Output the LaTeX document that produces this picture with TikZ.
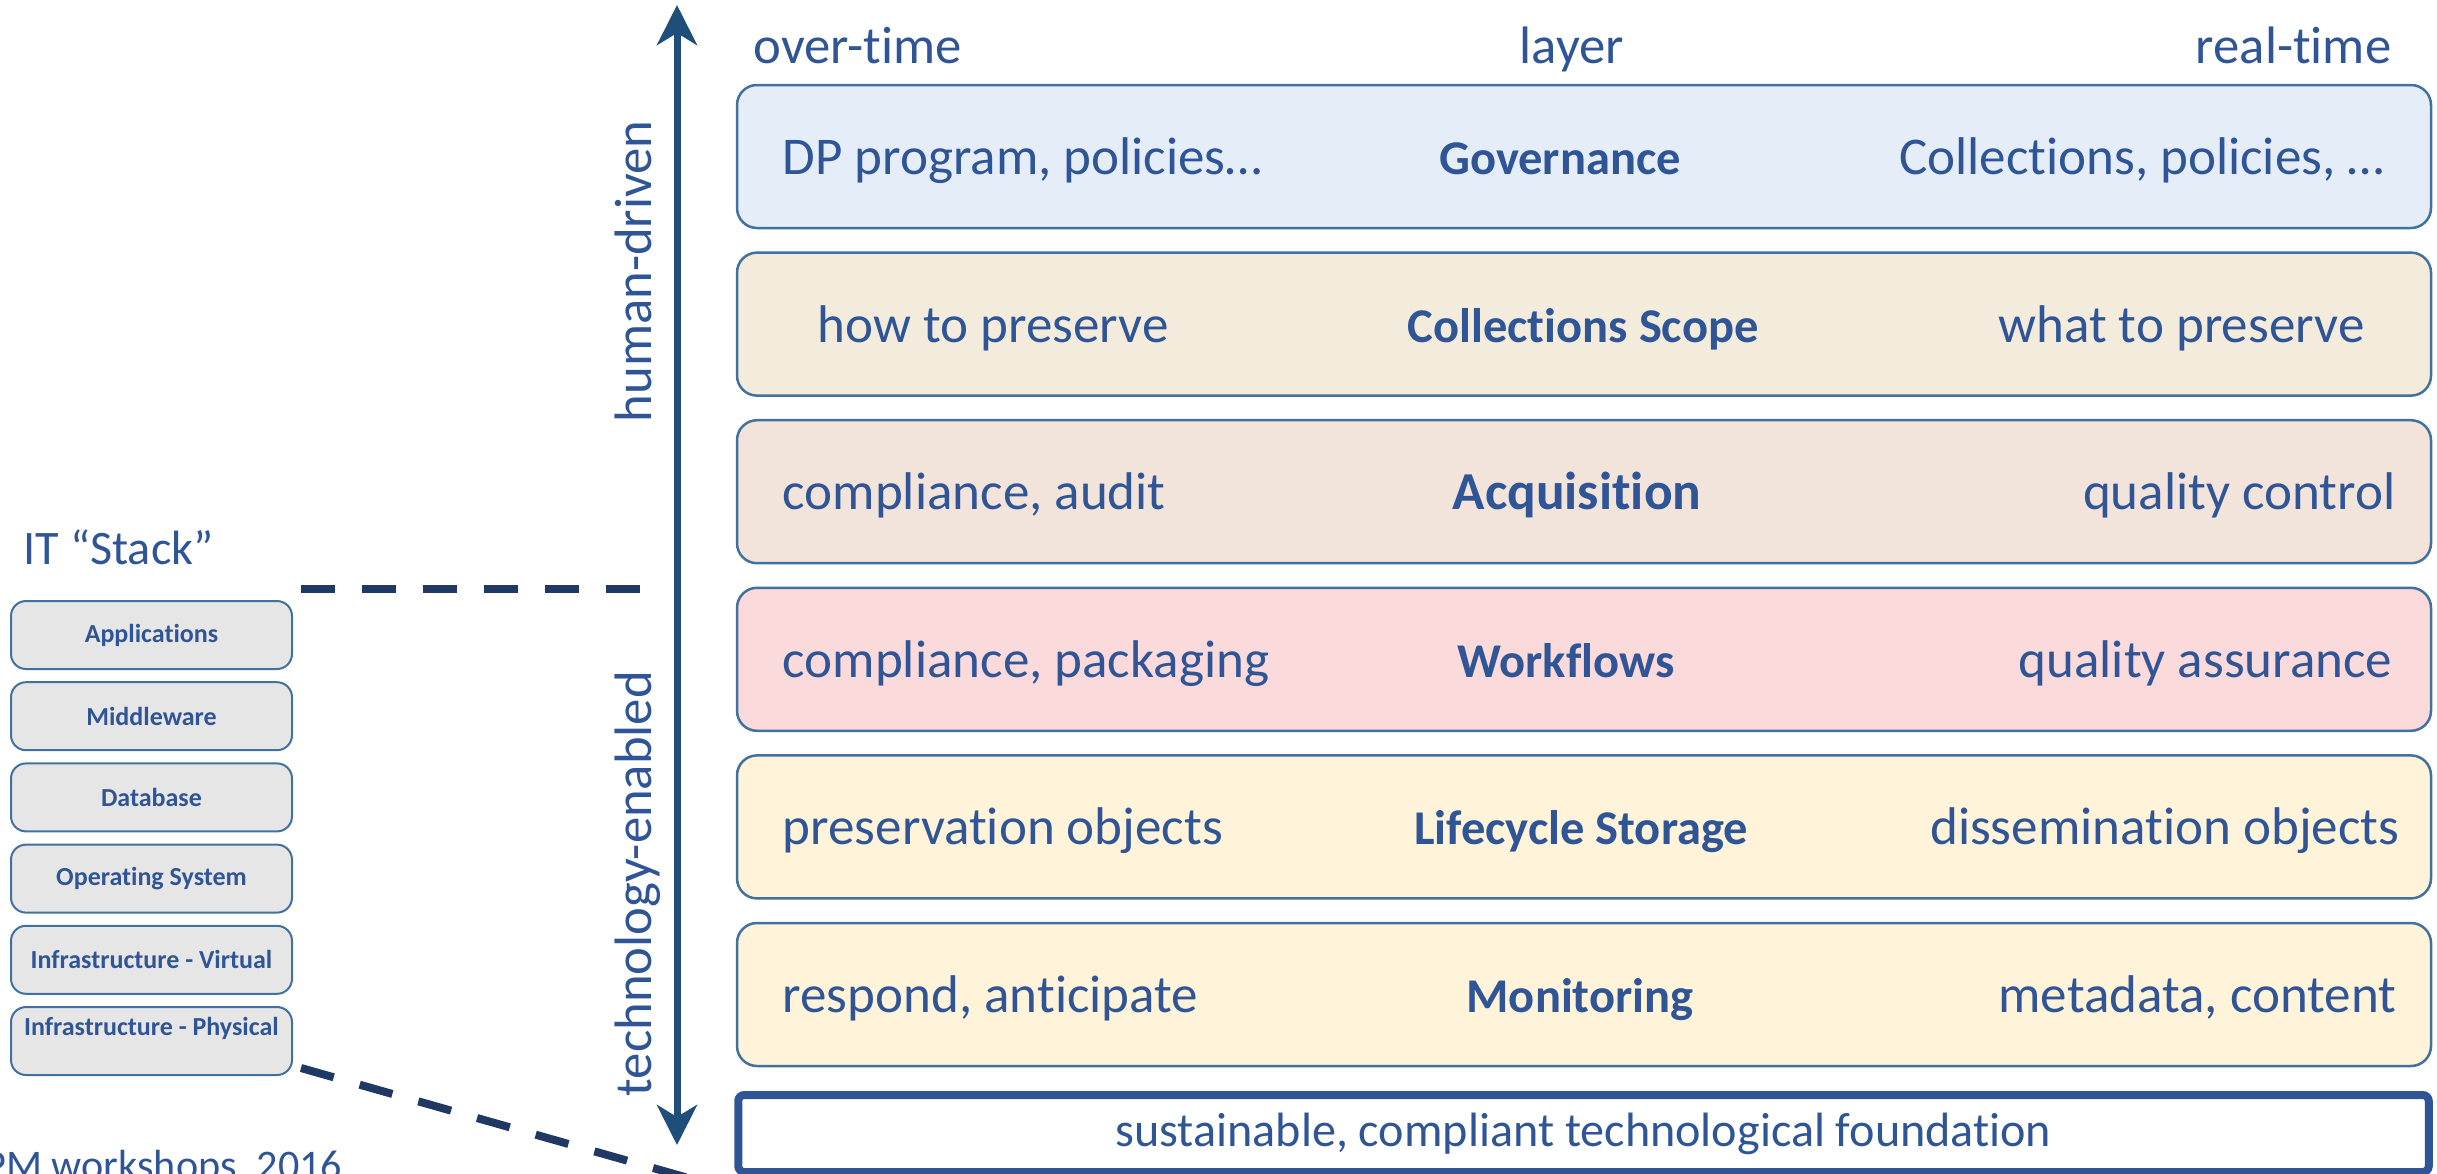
\documentclass[tikz,border=0pt]{standalone}
\usepackage{fontspec}
\setmainfont{Carlito}[Ligatures=NoCommon]
\usetikzlibrary{arrows.meta}
\definecolor{txtblue}{HTML}{2F5597}
\definecolor{bordc}{HTML}{41719C}
\definecolor{arrowc}{HTML}{1F4E79}
\definecolor{dashc}{HTML}{203864}
\definecolor{govfill}{HTML}{E5EEF8}
\definecolor{colfill}{HTML}{F3ECDC}
\definecolor{acqfill}{HTML}{F2E4DB}
\definecolor{wffill}{HTML}{FBDADB}
\definecolor{lcfill}{HTML}{FFF3DA}
\definecolor{itfill}{HTML}{E7E6E6}
\begin{document}
\begin{tikzpicture}[x=0.1mm,y=-0.1mm,
  bar/.style={draw=bordc, line width=0.25mm, rounded corners=2mm, minimum width=169.4mm, minimum height=14.3mm, inner sep=0pt},
  lt/.style={text=txtblue, font=\fontsize{15.1}{17}\selectfont, inner sep=0pt},
  mt/.style={text=txtblue, font=\fontsize{13.8}{16}\selectfont\bfseries, inner sep=0pt},
  hd/.style={text=txtblue, font=\fontsize{15}{17}\selectfont, inner sep=0pt},
  itbox/.style={draw=bordc, fill=itfill, line width=0.2mm, rounded corners=1.5mm, minimum width=28.1mm, minimum height=6.8mm, inner sep=0pt},
  ittext/.style={text=txtblue, font=\fontsize{7.4}{9}\selectfont\bfseries, inner sep=0pt},
  dashln/.style={draw=dashc, line width=0.8mm, dash pattern=on 3.4mm off 2.7mm},
  found/.style={draw=txtblue, line width=0.8mm, rounded corners=0.6mm, minimum width=169.05mm, minimum height=7.7mm, inner sep=0pt, text=txtblue, font=\fontsize{13.7}{16}\selectfont},
  axisarrow/.style={arrowc, line width=0.7mm, {Stealth[length=4mm,width=4mm,inset=1.2mm]}-{Stealth[length=4mm,width=4mm,inset=1.2mm]}}
]
\useasboundingbox (0,0) rectangle (2437,1173);
\clip (0,0) rectangle (2437,1173);

% headers
\node[hd, anchor=base west] (hov) at (753,63) {over-time};
\node[hd, anchor=base] (hlay) at (1572,63) {layer};
\node[hd, anchor=base east] (hrt) at (2392,63) {real-time};

% bars
\node[bar, fill=govfill] (gov) at (1584,156.5) {};
\node[lt, anchor=base west] (govL) at (782,174.5) {DP program, policies…};
\node[mt, anchor=base] (govM) at (1560,174.5) {Governance};
\node[lt, anchor=base east] (govR) at (2385,174.5) {Collections, policies, …};

\node[bar, fill=colfill] (col) at (1584,324.1) {};
\node[lt, anchor=base west] (colL) at (817,342.1) {how to preserve};
\node[mt, anchor=base] (colM) at (1583,342.1) {Collections Scope};
\node[lt, anchor=base east] (colR) at (2365,342.1) {what to preserve};

\node[bar, fill=acqfill] (acq) at (1584,491.7) {};
\node[lt, anchor=base west] (acqL) at (782,509.7) {compliance, audit};
\node[mt, anchor=base, font=\fontsize{15.2}{17}\selectfont\bfseries] (acqM) at (1577,509.7) {Acquisition};
\node[lt, anchor=base east] (acqR) at (2396,509.7) {quality control};

\node[bar, fill=wffill] (wf) at (1584,659.3) {};
\node[lt, anchor=base west] (wfL) at (782,677.3) {compliance, packaging};
\node[mt, anchor=base] (wfM) at (1566,677.3) {Workflows};
\node[lt, anchor=base east] (wfR) at (2393,677.3) {quality assurance};

\node[bar, fill=lcfill] (lc) at (1584,826.9) {};
\node[lt, anchor=base west] (lcL) at (782,844.9) {preservation objects};
\node[mt, anchor=base] (lcM) at (1581,844.9) {Lifecycle Storage};
\node[lt, anchor=base east] (lcR) at (2400,844.9) {dissemination objects};

\node[bar, fill=lcfill] (mon) at (1584,994.5) {};
\node[lt, anchor=base west] (monL) at (782,1012.5) {respond, anticipate};
\node[mt, anchor=base] (monM) at (1580,1012.5) {Monitoring};
\node[lt, anchor=base east] (monR) at (2397,1012.5) {metadata, content};

% foundation
\node[found] (fnd) at (1583.5,1133.5) {sustainable, compliant technological foundation};

% vertical arrow
\coordinate (atop) at (677,5);
\coordinate (abot) at (677,1145);
\draw[axisarrow] (abot) -- (atop);
\node[hd, rotate=90, anchor=base west] (hum) at (651,423) {human-driven};
\node[hd, rotate=90, anchor=base west] (tech) at (651,1097) {technology-enabled};

% IT stack
\node[text=txtblue, font=\fontsize{13.7}{16}\selectfont, inner sep=0pt, anchor=base west] (itt) at (23,564) {IT “Stack”};
\node[itbox] (s1) at (151.5,635) {};
\node[ittext] at (s1) {Applications};
\node[itbox] (s2) at (151.5,716.2) {};
\node[ittext] at (s2) {Middleware};
\node[itbox] (s3) at (151.5,797.4) {};
\node[ittext] at (s3) {Database};
\node[itbox] (s4) at (151.5,878.6) {};
\node[ittext] at (s4) {Operating System};
\node[itbox] (s5) at (151.5,959.8) {};
\node[ittext] at (s5) {Infrastructure - Virtual};
\node[itbox] (s6) at (151.5,1041) {};
\node[ittext, anchor=base] (s6t) at (151.5,1035) {Infrastructure - Physical};

% dashed connectors
\coordinate (d1a) at (301,589);
\coordinate (d1b) at (640,589);
\draw[dashln] (d1a) -- (d1b);
\coordinate (d2a) at (301,1068);
\coordinate (d2b) at (720,1187);
\draw[dashln] (d2a) -- (d2b);

% footer
\node[text=txtblue, font=\fontsize{12}{14}\selectfont, inner sep=0pt, anchor=base east] (foot) at (343,1179) {DPM workshops, 2016};
\end{tikzpicture}
\end{document}
